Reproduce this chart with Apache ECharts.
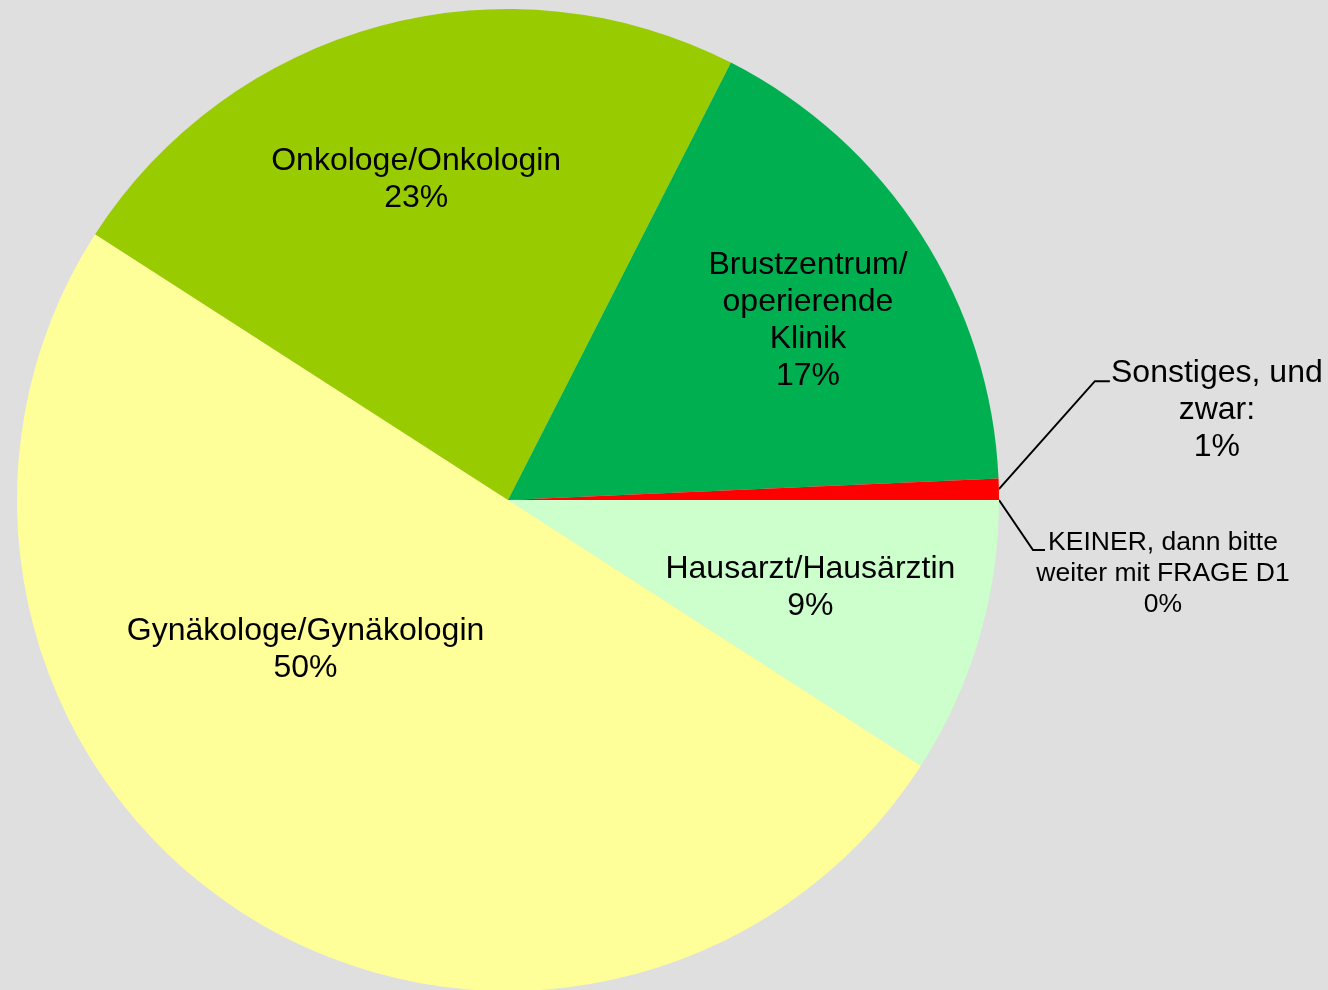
<!DOCTYPE html>
<html>
<head>
<meta charset="utf-8">
<script src="https://cdn.jsdelivr.net/npm/echarts@6/dist/echarts.min.js"></script>
<style>
html,body{margin:0;padding:0;background:#DFDFDF;}
#chart{width:1328px;height:990px;}
</style>
</head>
<body>
<div id="chart"></div>
<script>
// Data (clockwise from 3 o'clock)
var categories = [
  'Hausarzt/Hausärztin',
  'Gynäkologe/Gynäkologin',
  'Onkologe/Onkologin',
  'Brustzentrum/\noperierende\nKlinik',
  'Sonstiges, und\nzwar:',
  'KEINER, dann bitte\nweiter mit FRAGE D1'
];
var values = [9.1, 50.0, 23.4, 16.8, 0.7, 0.0];
var colors = ['#CCFFCC', '#FFFF99', '#99CC00', '#00B050', '#FF0000', '#FFC000'];

// label style tweaks (pixel offsets from default inner label position)
var innerOffsets = [[64, 18], [-68, -59], [-27, -80], [91, -45]];

var chart = echarts.init(document.getElementById('chart'), null, {renderer: 'canvas'});

var data = categories.map(function (c, i) {
  var item = {name: c, value: values[i], itemStyle: {color: colors[i]}};
  if (i >= 4) {
    item.label = {position: 'outside'};
    item.labelLine = {show: true};
  }
  if (i === 5) {
    item.label.fontSize = 26.5;
    item.label.lineHeight = 31;
  }
  return item;
});

chart.setOption({
  backgroundColor: '#DFDFDF',
  animation: false,
  series: [{
    type: 'pie',
    center: [508, 500],
    radius: 491,
    startAngle: 0,
    clockwise: true,
    avoidLabelOverlap: false,
    minShowLabelAngle: 0,
    silent: true,
    itemStyle: {borderWidth: 0},
    label: {
      show: true,
      position: 'inside',
      color: '#000',
      fontFamily: 'Liberation Sans, Arial, sans-serif',
      fontSize: 32,
      lineHeight: 37,
      align: 'center',
      formatter: function (p) {
        return p.name + '\n' + Math.round(p.percent) + '%';
      }
    },
    labelLine: {
      show: false,
      lineStyle: {color: '#000', width: 2}
    },
    labelLayout: function (p) {
      var i = p.dataIndex;
      if (i < 4) {
        return {dx: innerOffsets[i][0], dy: innerOffsets[i][1]};
      }
      var s = p.labelLinePoints[0];
      if (i === 4) {
        var p1 = [s[0] + 96, s[1] - 108];
        var p2 = [p1[0] + 15, p1[1]];
        return {
          x: p2[0] + 107, y: p2[1] - 27, align: 'center', verticalAlign: 'top',
          labelLinePoints: [s, p1, p2]
        };
      } else {
        var q1 = [s[0] + 34, s[1] + 50];
        var q2 = [q1[0] + 12, q1[1]];
        return {
          x: q2[0] + 118, y: q2[1] - 23, align: 'center', verticalAlign: 'top',
          labelLinePoints: [s, q1, q2]
        };
      }
    },
    data: data
  }]
});
</script>
</body>
</html>
